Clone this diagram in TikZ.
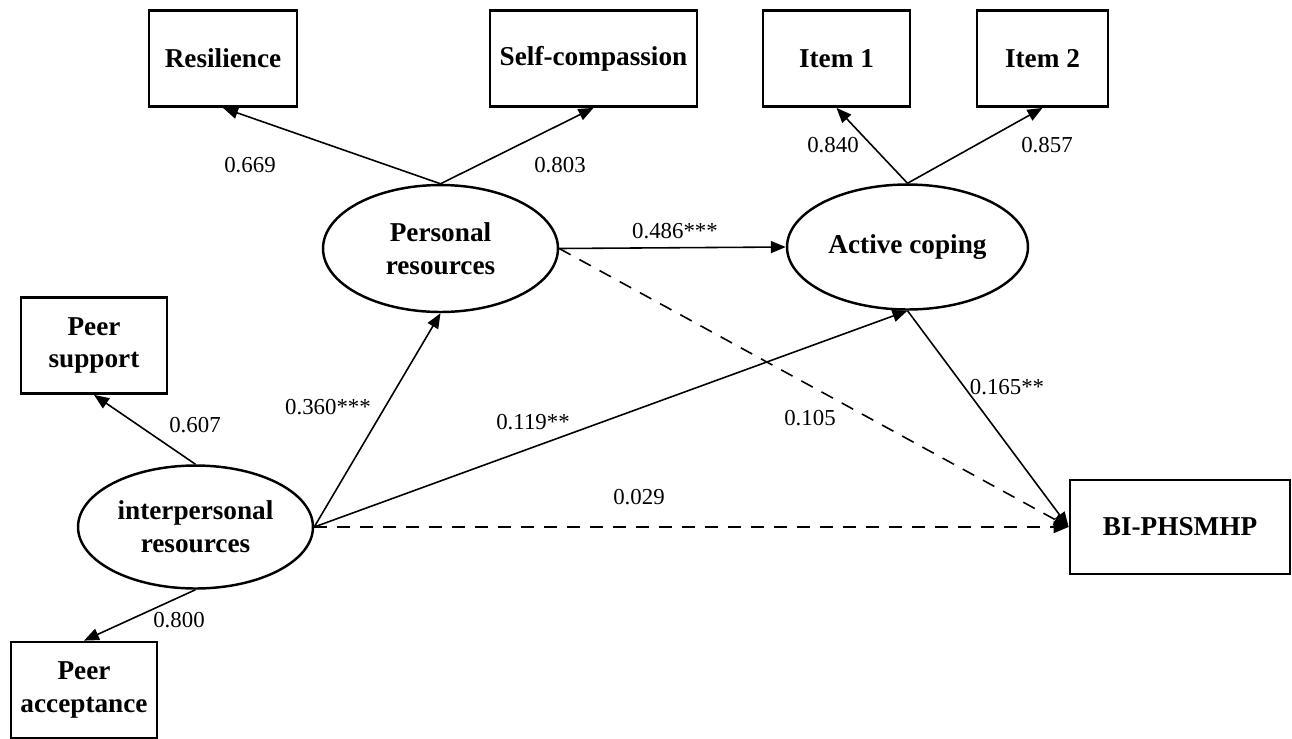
\documentclass[tikz,border=0pt]{standalone}
\usepackage{fontspec}
\setmainfont{Liberation Serif}
\usetikzlibrary{arrows.meta,shapes.geometric}

\begin{document}
\begin{tikzpicture}[x=0.02cm,y=-0.02cm,
    obs/.style={draw,line width=1.6pt,align=center,inner sep=0pt,
      font=\fontsize{15.5}{18.6}\selectfont\bfseries},
    lat/.style={draw,ellipse,line width=1.4pt,align=center,inner sep=0pt,
      font=\fontsize{15.5}{18.6}\selectfont\bfseries},
    coef/.style={font=\fontsize{13}{15}\selectfont,inner sep=0pt},
    arr/.style={line width=0.9pt,-{Triangle[length=0.3cm,width=0.24cm]}},
    darr/.style={arr,dash pattern=on 0.26cm off 0.2cm}]
    \useasboundingbox (0,0) rectangle (1292,738);

    % latent variables
    \node[lat,minimum width=4.7cm,minimum height=2.46cm] (ipr) at (195.5,527) {interpersonal\\resources};
    \node[lat,minimum width=4.7cm,minimum height=2.54cm] (per) at (440.5,248.5) {Personal\\resources};
    \node[lat,minimum width=4.82cm,minimum height=2.5cm] (act) at (907.5,247) {Active coping};

    % indicators
    \foreach \n/\x/\y/\w/\t in {res/223/58.5/2.96/Resilience, sc/593.5/58.5/4.14/Self-compassion,
        itm1/836.5/58.5/2.94/Item 1, itm2/1042.5/58.5/2.62/Item 2,
        ps/94/345.5/2.92/Peer\\support, pa/84/690/2.92/Peer\\acceptance}{
      \node[obs,minimum width=\w cm,minimum height=1.92cm] (\n) at (\x,\y) {\t};
    }
    \node[obs,minimum width=4.4cm,minimum height=1.88cm] (bi) at (1180,527) {BI-PHSMHP};

    % loadings
    \draw[arr] (per.north) -- (res.south);
    \draw[arr] (per.north) -- (sc.south);
    \draw[arr] (act.north) -- (itm1.south);
    \draw[arr] (act.north) -- (itm2.south);
    \draw[arr] (ipr.north) -- (ps.south);
    \draw[arr] (ipr.south) -- (pa.north);

    % structural paths
    \draw[arr] (per.east) -- (act.west);
    \draw[arr] (ipr.east) -- (per.south);
    \draw[arr] (ipr.east) -- (act.south);
    \draw[arr] (act.south) -- (bi.west);
    \draw[darr] (per.east) -- (bi.west);
    \draw[darr] (ipr.east) -- (bi.west);

    % coefficients
    \foreach \n/\x/\y/\t in {c1/250/165/0.669, c2/560/165/0.803, c3/833/145/0.840, c4/1047/145/0.857,
        c5/675/231/0.486***, c6/328/407/0.360***, c7/533/422/0.119**, c8/810/418/0.105,
        c9/1007/387/0.165**, c10/639/497/0.029, c11/195/425/0.607, c12/179/620/0.800}{
      \node[coef] (\n) at (\x,\y) {\t};
    }
\end{tikzpicture}
\end{document}
